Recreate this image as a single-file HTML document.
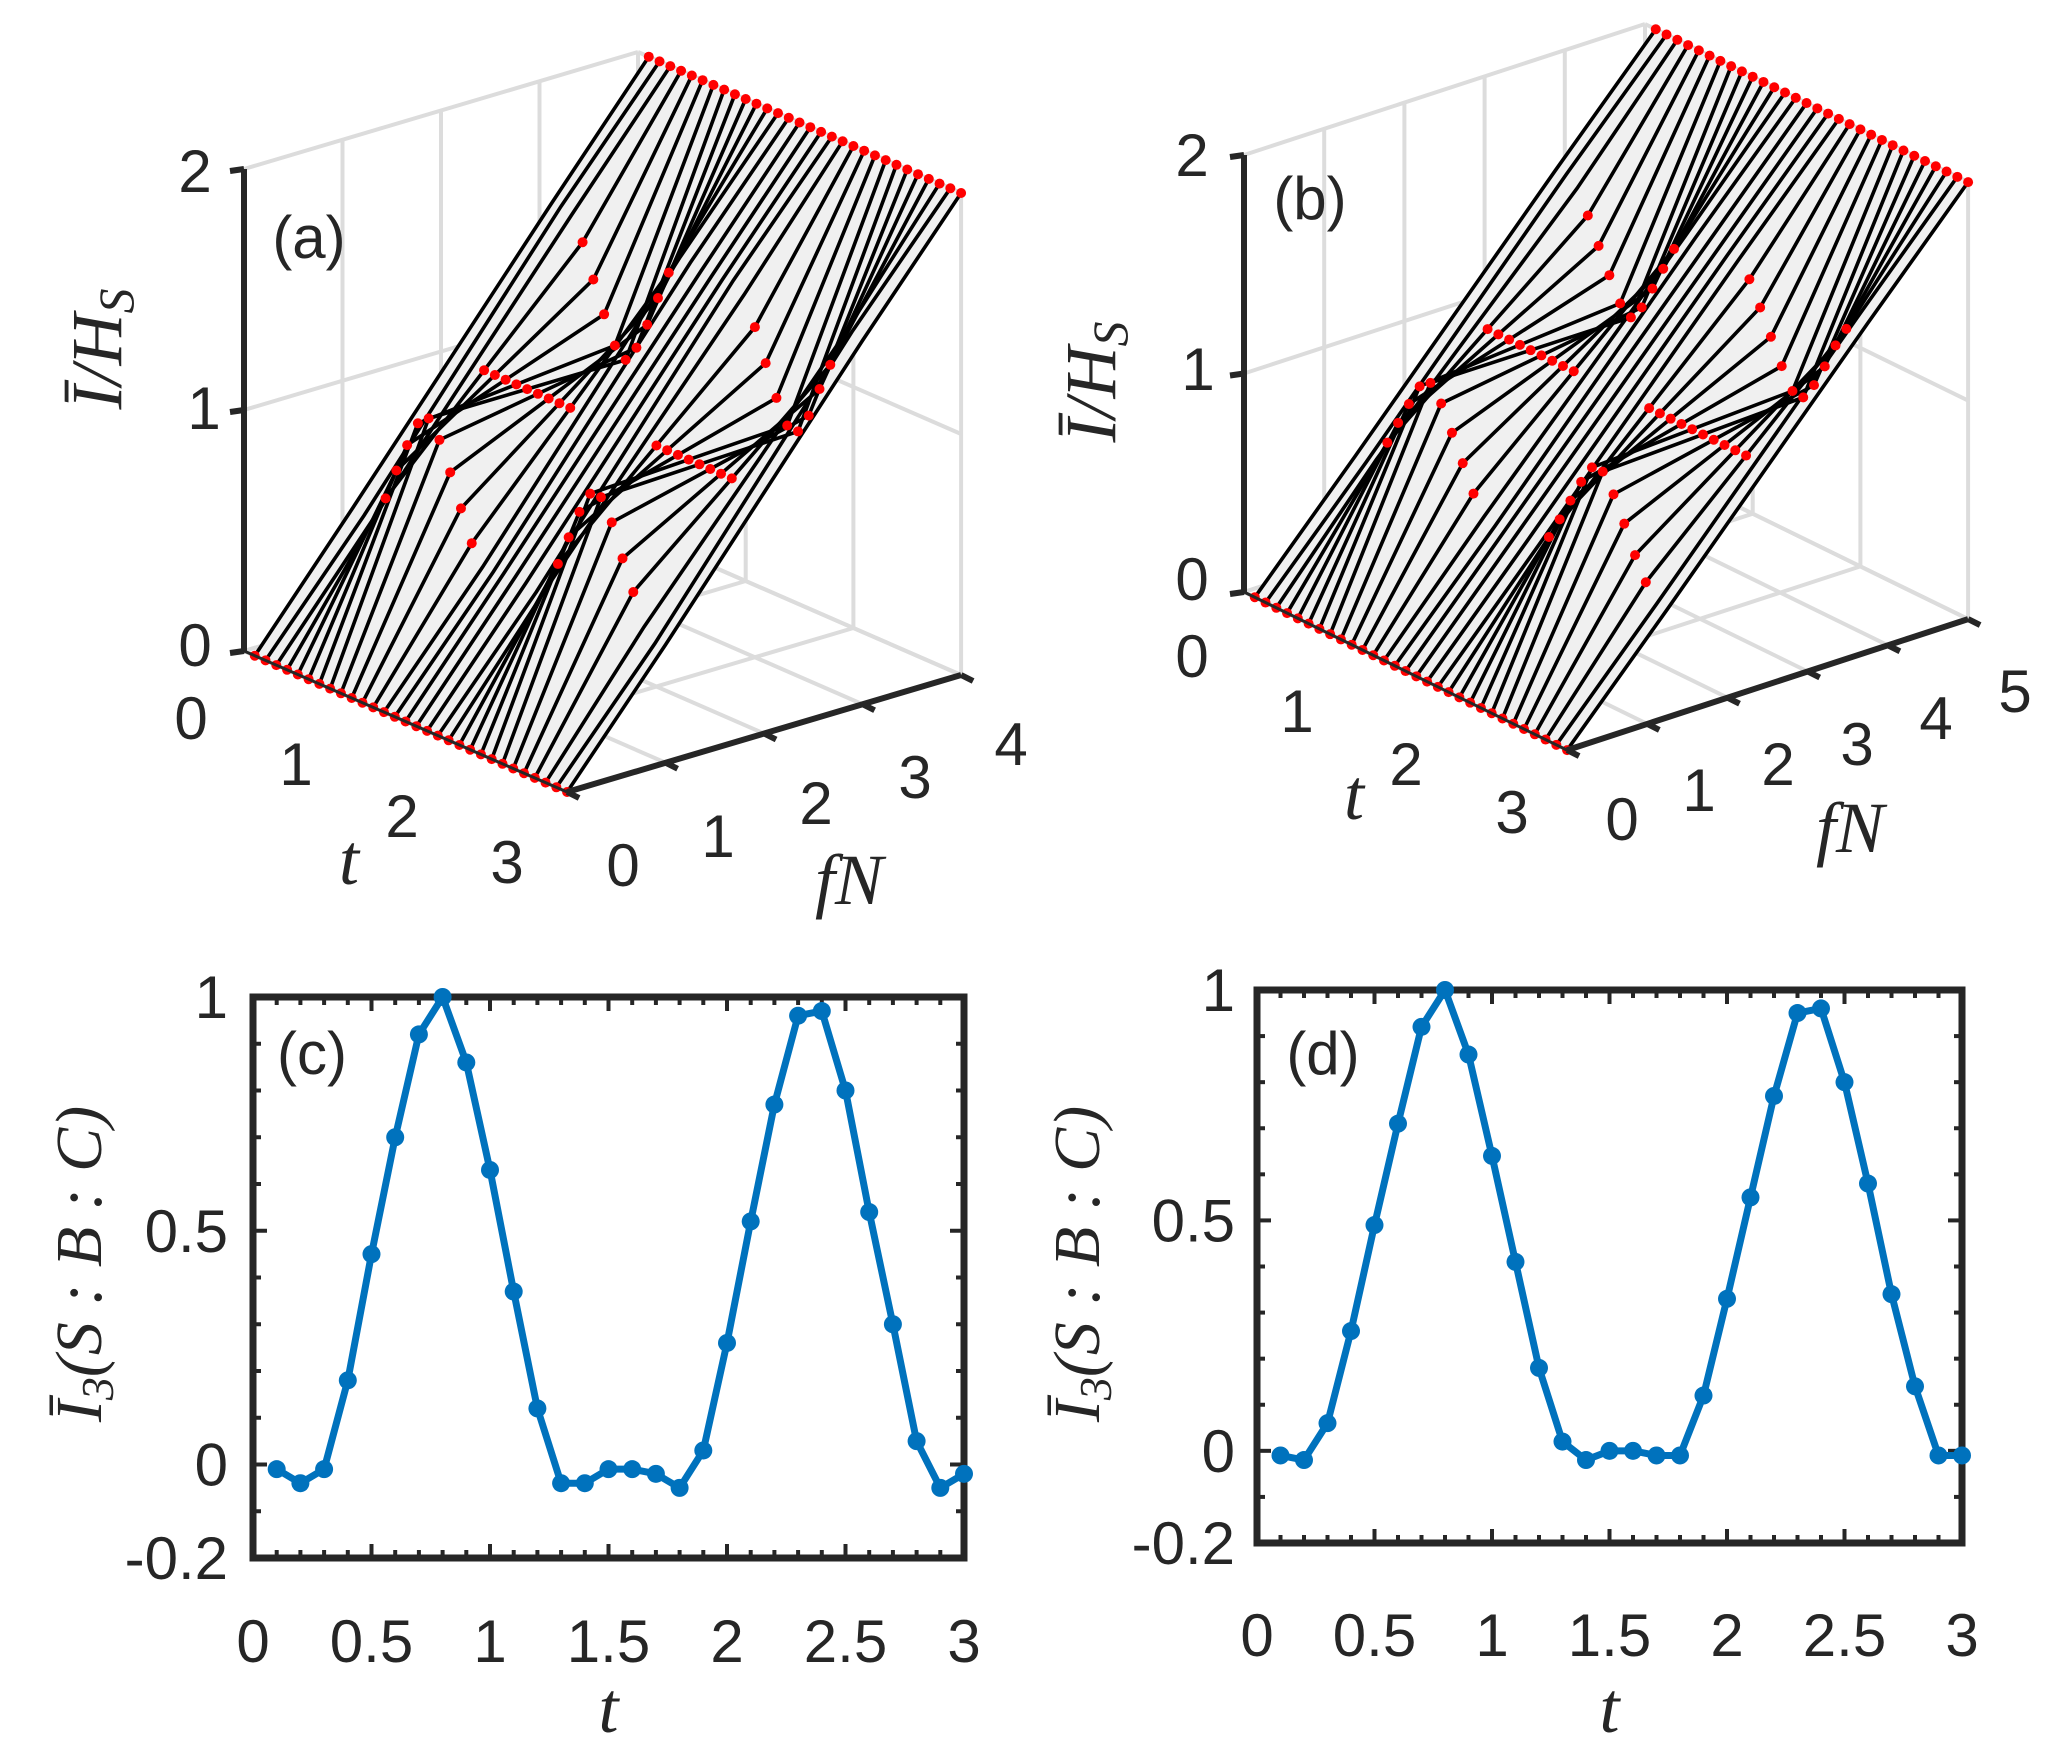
<!DOCTYPE html>
<html><head><meta charset="utf-8"><style>
html,body{margin:0;padding:0;background:#fff}
svg{display:block}
text{font-family:"Liberation Sans",sans-serif;fill:#262626}
.it{font-family:"Liberation Serif",serif;font-style:italic}
</style></head><body>
<svg id="fig" width="2054" height="1759" viewBox="0 0 2054 1759" xmlns="http://www.w3.org/2000/svg">
<g id="pa"></g>
<g id="pb"></g>
<g id="pc"></g>
<g id="pd"></g>
</svg>
<script>
const tVals=[0.1,0.2,0.3,0.4,0.5,0.6,0.7,0.8,0.9,1.0,1.1,1.2,1.3,1.4,1.5,1.6,1.7,1.8,1.9,2.0,2.1,2.2,2.3,2.4,2.5,2.6,2.7,2.8,2.9,3.0];
const i3c=[-0.01,-0.04,-0.01,0.18,0.45,0.70,0.92,1.0,0.86,0.63,0.37,0.12,-0.04,-0.04,-0.01,-0.01,-0.02,-0.05,0.03,0.26,0.52,0.77,0.96,0.97,0.80,0.54,0.30,0.05,-0.05,-0.02];
const i3d=[-0.01,-0.02,0.06,0.26,0.49,0.71,0.92,1.0,0.86,0.64,0.41,0.18,0.02,-0.02,0.0,0.0,-0.01,-0.01,0.12,0.33,0.55,0.77,0.95,0.96,0.80,0.58,0.34,0.14,-0.01,-0.01];
const xTicks2d=[0,0.5,1,1.5,2,2.5,3];
const yTicks2d=[1,0.5,0,-0.2];
const tTicks3d=[0,1,2,3];
const fnTicksA=[0,1,2,3,4];
const fnTicksB=[0,1,2,3,4,5];
const zTicks3d=[0,1,2];
const NS="http://www.w3.org/2000/svg";
function mk(parent,tag,attrs,txt){const e=document.createElementNS(NS,tag);for(const k in attrs)e.setAttribute(k,attrs[k]);if(txt!==undefined)e.textContent=txt;parent.appendChild(e);return e;}

function panel3d(g,cfg,i3,fnTicks){
  const P=(t,f,z)=>[cfg.ox+cfg.tu[0]*t+cfg.fu[0]*f, cfg.oy+cfg.tu[1]*t+cfg.fu[1]*f+cfg.zu*z];
  const F=cfg.fmax;
  const grid=mk(g,'g',{stroke:'#dcdcdc','stroke-width':4,fill:'none'});
  
  
  const L=(a,b)=>mk(grid,'line',{x1:a[0],y1:a[1],x2:b[0],y2:b[1]});
  fnTicks.forEach(f=>{L(P(0,f,0),P(0,f,2));});
  zTicks3d.forEach(z=>{L(P(0,0,z),P(0,F,z));L(P(0,F,z),P(3,F,z));});
  tTicks3d.forEach(t=>{L(P(t,F,0),P(t,F,2));L(P(t,0,0),P(t,F,0));});
  fnTicks.forEach(f=>{L(P(0,f,0),P(3,f,0));});
  const fs=[0,F/4,F/2,3*F/4,F];
  const prof=I=>[0,0.5+0.5*I,1,1.5-0.5*I,2];
  const lines=tVals.map((t,i)=>{const zs=prof(i3[i]);return fs.map((f,j)=>P(t,f,zs[j]));});
  const surf=mk(g,'g',{});
  
  
  for(let i=0;i<lines.length-1;i++){
    const a=lines[i],b=lines[i+1];
    const pts=a.concat(b.slice().reverse()).map(p=>p.join(',')).join(' ');
    const pg=mk(surf,'polygon',{points:pts,fill:'#f0f0f0',stroke:'none'});
    
    
  }
  lines.forEach((ln,i)=>{
    const pl=mk(surf,'polyline',{points:ln.map(p=>p.join(',')).join(' '),fill:'none',stroke:'#000','stroke-width':3.6});
    
    
  });
  lines.forEach((ln,i)=>{
    const idx=Math.abs(i3[i])>0.08?[0,1,2,3,4]:[0,4];
    idx.forEach(j=>{
      const c=mk(surf,'circle',{cx:ln[j][0],cy:ln[j][1],r:5,fill:'#ff0000'});
      
      
    });
  });
  const ax=mk(g,'g',{stroke:'#262626','stroke-width':5,fill:'none'});
  
  
  const A=(a,b,w)=>mk(ax,'line',{x1:a[0],y1:a[1],x2:b[0],y2:b[1],'stroke-width':w||5});
  A(P(0,0,0),P(0,0,2),6);
  zTicks3d.forEach(z=>{const p=P(0,0,z);A(p,[p[0]-14,p[1]+2],6);});
  A(P(0,0,0),P(3,0,0),3);
  A(P(3,0,0),P(3,F,0),6);
  fnTicks.forEach(f=>{const p=P(3,f,0);A(p,[p[0]+12,p[1]+6],6);});
  zTicks3d.forEach((z,i)=>{const e=mk(g,'text',{x:cfg.zl[i][0],y:cfg.zl[i][1]+21,'font-size':60,'text-anchor':'middle'},String(z));
    });
  tTicks3d.forEach((t,i)=>{const e=mk(g,'text',{x:cfg.tl[i][0],y:cfg.tl[i][1]+21,'font-size':60,'text-anchor':'middle'},String(t));
    });
  fnTicks.forEach((f,i)=>{const e=mk(g,'text',{x:cfg.fl[i][0],y:cfg.fl[i][1]+21,'font-size':60,'text-anchor':'middle'},String(f));
    });
  let e=mk(g,'text',{x:cfg.tt[0],y:cfg.tt[1]+22,'font-size':72,'text-anchor':'middle',class:'it'},'t');
  
  e=mk(g,'text',{x:cfg.ft[0],y:cfg.ft[1]+22,'font-size':72,'text-anchor':'middle',class:'it'},'fN');
  
  e=mk(g,'text',{x:0,y:0,'font-size':72,'text-anchor':'middle',class:'it',transform:`translate(${cfg.zt[0]+22},${cfg.zt[1]}) rotate(-90)`},'Ī/H');
  mk(e,'tspan',{'font-size':50,dy:12},'S');
  
  e=mk(g,'text',{x:cfg.lab[0],y:cfg.lab[1]+21,'font-size':60,'text-anchor':'middle'},cfg.label);
  
}

panel3d(document.getElementById('pa'),{ox:244,oy:651,tu:[107.7,47],fu:[98.5,-29.25],zu:-241,fmax:4,
 zl:[[195,645],[204,408],[195,171]],tl:[[191,718],[296,764],[402,816],[507,862]],
 fl:[[623,865],[718,836],[816,803],[915,777],[1011,744]],tt:[349,862],ft:[849,882],zt:[99,349],lab:[309,237],label:'(a)'},i3c,fnTicksA);
panel3d(document.getElementById('pb'),{ox:1244,oy:592,tu:[107.7,52.7],fu:[80.2,-26.2],zu:-218.5,fmax:5,
 zl:[[1192,579],[1198,369],[1192,155]],tl:[[1192,656],[1297,711],[1406,764],[1512,812]],
 fl:[[1622,819],[1699,790],[1778,764],[1857,744],[1936,718],[2015,691]],tt:[1354,797],ft:[1850,830],zt:[1093,382],lab:[1310,198],label:'(b)'},i3d,fnTicksB);

function panel2d(g,cfg,vals){
  const X=v=>cfg.x0+(cfg.x1-cfg.x0)*v/3;
  const Y=v=>cfg.y0+(cfg.y1-cfg.y0)*(1-v)/1.2;
  const tk=mk(g,'g',{stroke:'#262626','stroke-width':4});
  
  for(let k=0;k<=30;k++){const v=k/10,x=X(v),len=(k%5===0)?14:8;
    mk(tk,'line',{x1:x,y1:cfg.y1,x2:x,y2:cfg.y1-len});mk(tk,'line',{x1:x,y1:cfg.y0,x2:x,y2:cfg.y0+len});}
  for(let k=-2;k<=10;k++){const v=k/10,y=Y(v),len=(k%5===0)?14:8;
    mk(tk,'line',{x1:cfg.x0,y1:y,x2:cfg.x0+len,y2:y});mk(tk,'line',{x1:cfg.x1,y1:y,x2:cfg.x1-len,y2:y});}
  const fr=mk(g,'rect',{x:cfg.x0,y:cfg.y0,width:cfg.x1-cfg.x0,height:cfg.y1-cfg.y0,fill:'none',stroke:'#262626','stroke-width':7});
  
  const pl=mk(g,'polyline',{points:tVals.map((t,i)=>X(t)+','+Y(vals[i])).join(' '),fill:'none',stroke:'#0072BD','stroke-width':7,'stroke-linejoin':'round'});
  
  tVals.forEach((t,i)=>{const c=mk(g,'circle',{cx:X(t),cy:Y(vals[i]),r:9,fill:'#0072BD'});
    });
  xTicks2d.forEach(v=>{const e=mk(g,'text',{x:X(v),y:cfg.xly,'font-size':60,'text-anchor':'middle'},String(v));
    });
  yTicks2d.forEach(v=>{const e=mk(g,'text',{x:cfg.ylx,y:Y(v)+21,'font-size':60,'text-anchor':'end'},String(v));
    });
  let e=mk(g,'text',{x:(cfg.x0+cfg.x1)/2,y:1732,'font-size':72,'text-anchor':'middle',class:'it'},'t');
  
  e=mk(g,'text',{x:0,y:0,'font-size':66,'text-anchor':'middle',class:'it',transform:`translate(${cfg.ytx+22},1264) rotate(-90)`});
  
  mk(e,'tspan',{},'Ī');mk(e,'tspan',{'font-size':46,dy:12},'3');mk(e,'tspan',{dy:-12},'(S : B : C)');
  e=mk(g,'text',{x:cfg.lab[0],y:cfg.lab[1]+21,'font-size':60,'text-anchor':'middle'},cfg.label);
  
}
panel2d(document.getElementById('pc'),{x0:253,x1:964,y0:997,y1:1558,xly:1662,ylx:228,ytx:79,lab:[312,1053],label:'(c)'},i3c);
panel2d(document.getElementById('pd'),{x0:1257,x1:1962,y0:990,y1:1543,xly:1656,ylx:1235,ytx:1077,lab:[1323,1053],label:'(d)'},i3d);
</script>
</body></html>
